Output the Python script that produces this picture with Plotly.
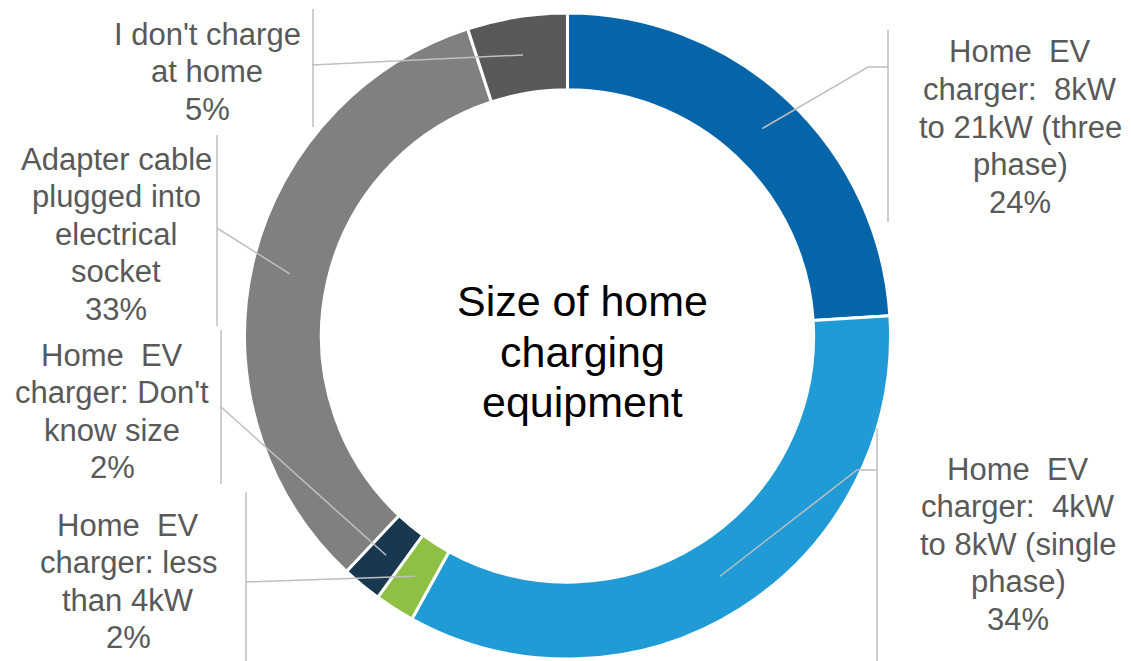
import math
import plotly.graph_objects as go

# Survey shares, clockwise from 12 o'clock
categories = [
    "Home  EV charger:  8kW to 21kW (three phase)",
    "Home  EV charger:  4kW to 8kW (single phase)",
    "Home  EV charger: less than 4kW",
    "Home  EV charger: Don't know size",
    "Adapter cable plugged into electrical socket",
    "I don't charge at home",
]
shares = [24, 34, 2, 2, 33, 5]
label_lines = [
    ["Home  EV", "charger:  8kW", "to 21kW (three", "phase)"],
    ["Home  EV", "charger:  4kW", "to 8kW (single", "phase)"],
    ["Home  EV", "charger: less", "than 4kW"],
    ["Home  EV", "charger: Don't", "know size"],
    ["Adapter cable", "plugged into", "electrical", "socket"],
    ["I don't charge", "at home"],
]
colors = ["#0565A8", "#209BD6", "#8DC043", "#17384F", "#808080", "#595959"]
center_title = ["Size of home", "charging", "equipment"]

W, H = 1131, 661
CX, CY, R = 567.5, 336.0, 323.0
HOLE = 0.762
LABEL_COLOR = "#595959"
LEADER_COLOR = "#BFBFBF"
FONT = "Liberation Sans, Arial, sans-serif"


def px(x):
    return x / W


def py(y):
    return 1 - y / H


# Label block layout: centre x, first line centre y, line pitch
label_pos = [
    (1020, 52), (1018, 469), (128, 525), (112, 355), (116, 159), (207, 34),
]
LINE_PITCH = 37.5
# Leader elbow/end points and the vertical rule beside each label
leader_ends = [
    [(868, 67), (888, 67)],
    [(857, 470), (877, 470)],
    [(246, 582)],
    [(220, 406)],
    [(217, 228)],
    [(312, 65)],
]
rules = [
    (888, 30, 222), (877, 428, 661), (246, 492, 661),
    (221, 330, 484), (217, 135, 326), (313, 9, 127),
]

fig = go.Figure(
    go.Pie(
        labels=categories,
        values=shares,
        sort=False,
        direction="clockwise",
        rotation=0,
        hole=HOLE,
        marker=dict(colors=colors, line=dict(color="white", width=3)),
        textinfo="none",
        hoverinfo="label+percent",
        showlegend=False,
        domain=dict(x=[px(CX - R), px(CX + R)], y=[py(CY + R), py(CY - R)]),
    )
)

annotations = []
shapes = []
total = sum(shares)
cum = 0.0
r_mid = R * (1 + HOLE) / 2
for i, v in enumerate(shares):
    mid = (cum + v / 2) / total
    cum += v
    ang = 2 * math.pi * mid
    sx = CX + r_mid * math.sin(ang)
    sy = CY - r_mid * math.cos(ang)
    pts = [(sx, sy)] + leader_ends[i]
    path = "M " + " L ".join(f"{px(x):.5f},{py(y):.5f}" for x, y in pts)
    shapes.append(dict(type="path", xref="paper", yref="paper", path=path,
                       line=dict(color=LEADER_COLOR, width=1.5)))
    rx, ry0, ry1 = rules[i]
    shapes.append(dict(type="line", xref="paper", yref="paper",
                       x0=px(rx), x1=px(rx), y0=py(ry0), y1=py(ry1),
                       line=dict(color=LEADER_COLOR, width=1.5)))

    lx, ly = label_pos[i]
    lines = label_lines[i] + [f"{v}%"]
    for k, t in enumerate(lines):
        annotations.append(dict(
            text=t, x=px(lx), y=py(ly + k * LINE_PITCH), xref="paper", yref="paper",
            xanchor="center", yanchor="middle", showarrow=False,
            font=dict(family=FONT, size=31, color=LABEL_COLOR),
        ))

for k, t in enumerate(center_title):
    annotations.append(dict(
        text=t, x=px(CX + 15), y=py(301 + k * 50.5), xref="paper", yref="paper",
        xanchor="center", yanchor="middle", showarrow=False,
        font=dict(family=FONT, size=43, color="black"),
    ))

fig.update_layout(
    width=W, height=H,
    margin=dict(l=0, r=0, t=0, b=0),
    paper_bgcolor="white", plot_bgcolor="white",
    annotations=annotations, shapes=shapes,
)

fig.write_html("out.html", config={"displayModeBar": False})
